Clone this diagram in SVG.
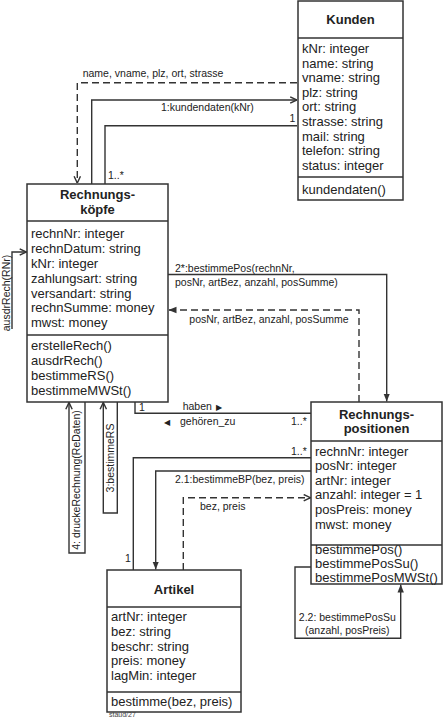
<svg xmlns="http://www.w3.org/2000/svg" width="444" height="718" viewBox="0 0 444 718">
<style>
.box{fill:#fff;stroke:#333;stroke-width:1.5}
.sep{stroke:#333;stroke-width:1.5}
.t{font-family:"Liberation Sans",Arial,sans-serif;font-size:13px;fill:#222}
.h{font-family:"Liberation Sans",Arial,sans-serif;font-size:13px;font-weight:bold;fill:#222;text-anchor:middle}
.l{font-family:"Liberation Sans",Arial,sans-serif;font-size:10.5px;fill:#222}
.c{fill:none;stroke:#333;stroke-width:1.4}
.d{stroke-dasharray:7,4}
.tri{font-family:"DejaVu Sans",sans-serif;font-size:8px}
</style>
<defs>
<marker id="open" viewBox="0 0 10 10" refX="9.5" refY="5" markerWidth="8" markerHeight="8" markerUnits="userSpaceOnUse" orient="auto"><path d="M1,1 L9.5,5 L1,9" fill="none" stroke="#333" stroke-width="1.8"/></marker>
<marker id="filled" viewBox="0 0 10 10" refX="10" refY="5" markerWidth="8" markerHeight="8" markerUnits="userSpaceOnUse" orient="auto"><path d="M0,1 L10,5 L0,9 Z" fill="#333"/></marker>
</defs>
<rect width="444" height="718" fill="#fff"/>

<g id="connectors">
<path class="c d" d="M297,82.7 H77.3 V183" marker-end="url(#open)"/>
<path class="c" d="M91.7,184 V100 H297" marker-end="url(#open)"/>
<path class="c" d="M105,184 V125.7 H297"/>
<path class="c" d="M12,329 V252 H26.5" marker-end="url(#open)"/>
<path class="c" d="M168,274.5 H386.7 V401.5" marker-end="url(#filled)"/>
<path class="c d" d="M359,402 V310 H168.5" marker-end="url(#filled)"/>
<path class="c" d="M135,402 V413.3 H311"/>
<path class="c" d="M85,402 V553 H69 V402.5" marker-end="url(#open)"/>
<path class="c" d="M117.3,402 V513 H103.3 V402.5" marker-end="url(#open)"/>
<path class="c" d="M133.3,570 V457.7 H311"/>
<path class="c" d="M311,471 H155.7 V569.5" marker-end="url(#filled)"/>
<path class="c d" d="M183.3,570 V497.7 H310.5" marker-end="url(#open)"/>
<path class="c" d="M311,567 H295 V638.3 H400.7 V584.5" marker-end="url(#filled)"/>
<text class="l" x="82.7" y="76.5">name, vname, plz, ort, strasse</text>
<text class="l" x="161" y="111">1:kundendaten(kNr)</text>
<text class="l" x="289.5" y="122">1</text>
<text class="l" x="108" y="179">1..*</text>
<text class="l" text-anchor="middle" transform="translate(9.7,293) rotate(-90)">ausdrRech(RNr)</text>
<text class="l" x="175" y="271.5">2*:bestimmePos(rechnNr,</text>
<text class="l" x="175" y="285.5">posNr, artBez, anzahl, posSumme)</text>
<text class="l" x="189.3" y="323">posNr, artBez, anzahl, posSumme</text>
<text class="l" x="139" y="410.5">1</text>
<text class="l" x="182.7" y="409.5">haben<tspan class="tri" x="216">▶</tspan></text>
<text class="l" x="164" y="424.7"><tspan class="tri">◀</tspan><tspan x="180">gehören_zu</tspan></text>
<text class="l" x="291" y="424.7">1..*</text>
<text class="l" x="291" y="454.7">1..*</text>
<text class="l" x="175" y="483">2.1:bestimmeBP(bez, preis)</text>
<text class="l" x="200" y="510.4">bez, preis</text>
<text class="l" x="125" y="562">1</text>
<text class="l" text-anchor="middle" transform="translate(80.4,480) rotate(-90)">4: druckeRechnung(ReDaten)</text>
<text class="l" text-anchor="middle" transform="translate(114.4,458) rotate(-90)">3:bestimmeRS</text>
<text class="l" text-anchor="middle" x="347.3" y="621">2.2: bestimmePosSu</text>
<text class="l" text-anchor="middle" x="347.3" y="634.4">(anzahl, posPreis)</text>
</g>

<g id="kunden">
<rect class="box" x="298" y="1" width="105" height="199"/>
<line class="sep" x1="298" y1="38" x2="403" y2="38"/>
<line class="sep" x1="298" y1="177" x2="403" y2="177"/>
<text class="h" x="350.5" y="24">Kunden</text>
<text class="t" x="302" y="53">kNr: integer</text>
<text class="t" x="302" y="67.6">name: string</text>
<text class="t" x="302" y="82.2">vname: string</text>
<text class="t" x="302" y="96.8">plz: string</text>
<text class="t" x="302" y="111.4">ort: string</text>
<text class="t" x="302" y="126">strasse: string</text>
<text class="t" x="302" y="140.6">mail: string</text>
<text class="t" x="302" y="155.2">telefon: string</text>
<text class="t" x="302" y="169.8">status: integer</text>
<text class="t" x="302" y="194">kundendaten()</text>
</g>

<g id="rechnungskoepfe">
<rect class="box" x="27" y="184" width="141" height="218"/>
<line class="sep" x1="27" y1="221" x2="168" y2="221"/>
<line class="sep" x1="27" y1="335" x2="168" y2="335"/>
<text class="h" x="97.5" y="199">Rechnungs-</text>
<text class="h" x="97.5" y="213.5">köpfe</text>
<text class="t" x="31" y="238">rechnNr: integer</text>
<text class="t" x="31" y="253">rechnDatum: string</text>
<text class="t" x="31" y="268">kNr: integer</text>
<text class="t" x="31" y="282.5">zahlungsart: string</text>
<text class="t" x="31" y="297.5">versandart: string</text>
<text class="t" x="31" y="312">rechnSumme: money</text>
<text class="t" x="31" y="327">mwst: money</text>
<text class="t" x="31" y="350">erstelleRech()</text>
<text class="t" x="31" y="365">ausdrRech()</text>
<text class="t" x="31" y="380">bestimmeRS()</text>
<text class="t" x="31" y="395">bestimmeMWSt()</text>
</g>

<g id="rechnungspositionen">
<rect class="box" x="311" y="402" width="131" height="182"/>
<line class="sep" x1="311" y1="441" x2="442" y2="441"/>
<line class="sep" x1="311" y1="545" x2="442" y2="545"/>
<text class="h" x="376.5" y="418.5">Rechnungs-</text>
<text class="h" x="376.5" y="433">positionen</text>
<text class="t" x="315" y="455.5">rechnNr: integer</text>
<text class="t" x="315" y="470">posNr: integer</text>
<text class="t" x="315" y="484.5">artNr: integer</text>
<text class="t" x="315" y="499">anzahl: integer = 1</text>
<text class="t" x="315" y="513.5">posPreis: money</text>
<text class="t" x="315" y="528.5">mwst: money</text>
<text class="t" x="315" y="553.5">bestimmePos()</text>
<text class="t" x="315" y="568">bestimmePosSu()</text>
<text class="t" x="315" y="581.5">bestimmePosMWSt()</text>
</g>

<g id="artikel">
<rect class="box" x="107" y="570" width="134" height="142"/>
<line class="sep" x1="107" y1="607" x2="241" y2="607"/>
<line class="sep" x1="107" y1="692" x2="241" y2="692"/>
<text class="h" x="174" y="594">Artikel</text>
<text class="t" x="111" y="621">artNr: integer</text>
<text class="t" x="111" y="635.5">bez: string</text>
<text class="t" x="111" y="650.5">beschr: string</text>
<text class="t" x="111" y="664.5">preis: money</text>
<text class="t" x="111" y="679.5">lagMin: integer</text>
<text class="t" x="111" y="706">bestimme(bez, preis)</text>
</g>

<text x="109" y="717" font-family="'Liberation Sans',Arial,sans-serif" font-size="7" fill="#444">staud/27</text>
</svg>
